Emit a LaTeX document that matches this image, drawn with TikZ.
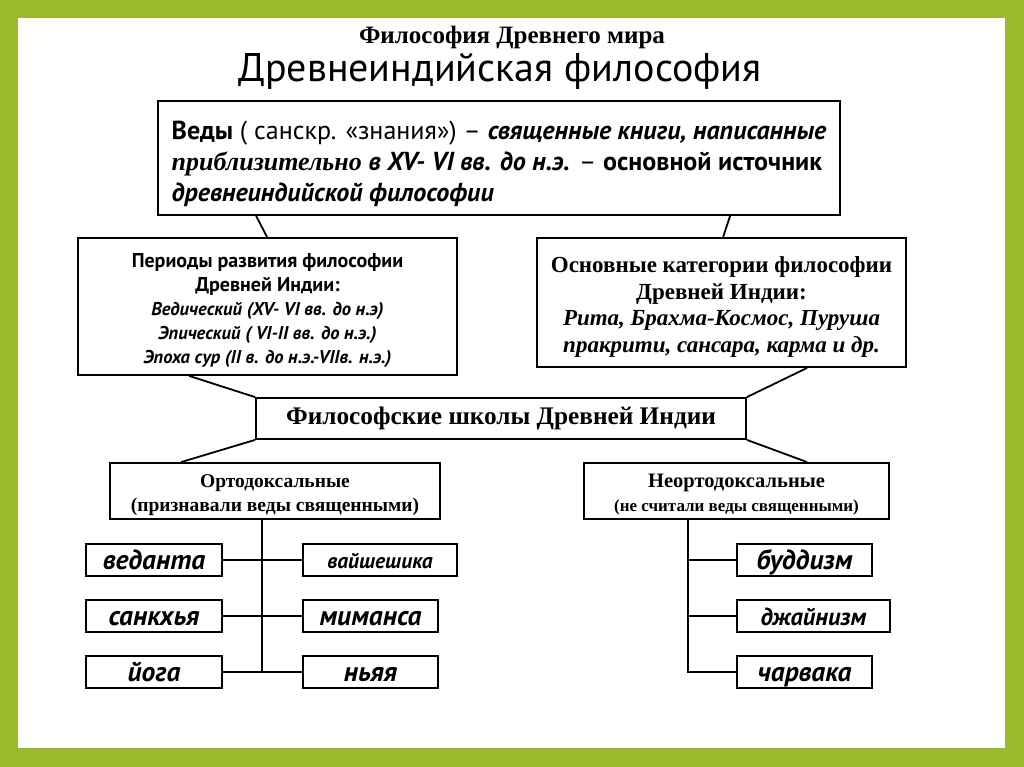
\documentclass[tikz,border=0pt]{standalone}
\usepackage{fontspec}
\setmainfont{Liberation Serif}
\newfontfamily\pts{PT Sans}
\definecolor{frame}{RGB}{155,186,45}
\newcommand{\strt}[1]{\rule{0pt}{#1}}
\tikzset{
  box/.style={draw, line width=1.8pt, fill=white, inner sep=0pt, align=center},
  conn/.style={line width=1.8pt},
  leaf/.style={box, minimum height=32pt, text height=24pt, text depth=5.5pt,
               font=\pts\bfseries\itshape\fontsize{27.5}{28}\selectfont},
}
\begin{document}
\begin{tikzpicture}[x=1pt,y=-1pt]
\useasboundingbox (0,0) rectangle (1024,767);
\fill[frame] (0,0) rectangle (1024,767);
\fill[white] (18,18) rectangle (1005,748);

% titles
\node[font=\bfseries\fontsize{25}{28}\selectfont] (t1) at (512,37) {Философия Древнего мира};
\node[font=\pts\fontsize{40}{44}\selectfont] (t2) at (500,71) {Древнеиндийская философия};

% Vedas
\node[box, minimum width=682pt, minimum height=114pt, align=left,
      font=\pts\fontsize{26}{31}\selectfont] (veda) at (499,158)
 {\strt{29.5pt}{\bfseries Веды} ( санскр. «знания») – {\bfseries\itshape священные книги, написанные}\\
  {\rmfamily\bfseries\itshape приблизительно} {\bfseries\itshape в XV- VI вв. до н.э.} – {\bfseries основной источник}\\
  {\bfseries\itshape древнеиндийской философии}};

% periods
\node[box, minimum width=379pt, minimum height=137pt, font=\pts\fontsize{20}{24}\selectfont] (per) at (267.5,306.5)
 {\strt{22.5pt}{\bfseries Периоды развития философии}\\
  {\bfseries Древней Индии:}\\
  {\bfseries\itshape\fontsize{18.5}{24}\selectfont Ведический (XV- VI вв. до н.э)}\\
  {\bfseries\itshape\fontsize{18.5}{24}\selectfont Эпический ( VI-II вв. до н.э.)}\\
  {\bfseries\itshape\fontsize{18.5}{24}\selectfont Эпоха сур (II в. до н.э.-VIIв. н.э.)}};

% categories
\node[box, minimum width=369pt, minimum height=129pt, font=\bfseries\fontsize{23}{26.5}\selectfont] (cat) at (721.5,302.5)
 {\strt{24.6pt}Основные категории философии\\
  Древней Индии:\\
  {\itshape Рита, Брахма-Космос, Пуруша}\\
  {\itshape пракрити, сансара, карма и др.}};

% schools
\node[box, minimum width=490pt, minimum height=41pt, font=\bfseries\fontsize{25.3}{28}\selectfont] (sch) at (501,418.5)
 {Философские школы Древней Индии};

% orthodox / heterodox
\node[box, minimum width=330pt, minimum height=56pt, font=\bfseries\fontsize{19.5}{24}\selectfont] (ortho) at (275,491)
 {\strt{21pt}Ортодоксальные\\(признавали веды священными)};
\node[box, minimum width=305pt, minimum height=56pt, font=\bfseries\fontsize{20.5}{24}\selectfont] (neo) at (736.5,491)
 {\strt{21.5pt}Неортодоксальные\\{\fontsize{17}{18}\selectfont(не считали веды священными)}};

% leaves
\node[leaf, minimum width=136pt] (ved) at (154,560) {веданта};
\node[leaf, minimum width=136pt] (san) at (154,616) {санкхья};
\node[leaf, minimum width=136pt] (yog) at (154,672) {йога};
\node[leaf, minimum width=154pt, text height=23pt, text depth=5.25pt,
      font=\pts\bfseries\itshape\fontsize{21.5}{24}\selectfont] (vai) at (380,560) {вайшешика};
\node[leaf, minimum width=135pt] (mim) at (370.5,616) {миманса};
\node[leaf, minimum width=135pt] (nya) at (370.5,672) {ньяя};
\node[leaf, minimum width=135pt] (bud) at (804.5,560) {буддизм};
\node[leaf, minimum width=153pt, text height=24pt, text depth=5.75pt,
      font=\pts\bfseries\itshape\fontsize{24.5}{26}\selectfont] (jai) at (813.5,616) {джайнизм};
\node[leaf, minimum width=135pt] (cha) at (804.5,672) {чарвака};

% connectors
\draw[conn] ([xshift=99pt]veda.south west) -- ([xshift=190pt]per.north west);
\draw[conn] ([xshift=573pt]veda.south west) -- ([xshift=187pt]cat.north west);
\draw[conn] ([xshift=112pt]per.south west) -- (sch.north west);
\draw[conn] ([xshift=271pt]cat.south west) -- (sch.north east);
\draw[conn] (sch.south west) -- ([xshift=72pt]ortho.north west);
\draw[conn] (sch.south east) -- ([xshift=224pt]neo.north west);

\coordinate (ot) at ([xshift=153pt]ortho.south west);
\draw[conn] (ot) -- (ot |- yog.east);
\draw[conn] (ved.east) -- (vai.west);
\draw[conn] (san.east) -- (mim.west);
\draw[conn] (yog.east) -- (nya.west);

\coordinate (nt) at ([xshift=105pt]neo.south west);
\draw[conn] (nt) |- (cha.west);
\draw[conn] (bud.west) -- (bud.west -| nt);
\draw[conn] (jai.west) -- (jai.west -| nt);
\end{tikzpicture}
\end{document}
